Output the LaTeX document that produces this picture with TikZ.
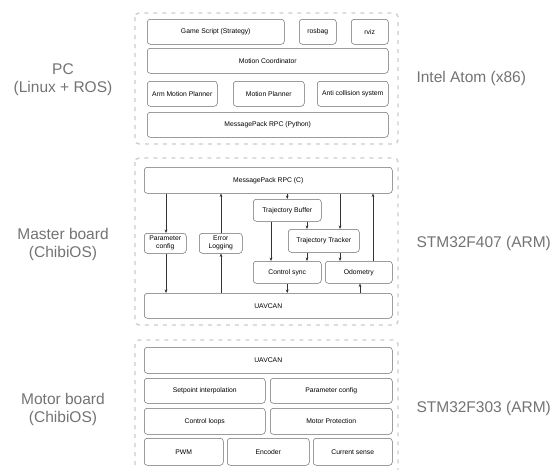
\documentclass[tikz,border=0pt]{standalone}
\usepackage{fontspec}
\setmainfont{Liberation Sans}
\usetikzlibrary{arrows.meta}

\definecolor{boxline}{RGB}{105,105,105}
\definecolor{dashgray}{RGB}{205,205,205}
\definecolor{labelgray}{RGB}{115,115,115}

\tikzset{
  layer/.style={draw=boxline, line width=0.5pt, rounded corners=3pt, anchor=north west,
    inner sep=0pt, align=center, font=\fontsize{6.8}{8}\selectfont},
  group/.style={draw=dashgray, line width=1.4pt, dash pattern=on 4pt off 5pt, rounded corners=4pt},
  side/.style={text=labelgray, align=center, font=\fontsize{15.5}{18}\selectfont},
  arr/.style={-{Stealth[length=3.5pt,width=2.8pt]}, draw=black!80, line width=0.5pt}
}

\begin{document}
\begin{tikzpicture}[x=1pt, y=-1pt]
\useasboundingbox (0,0) rectangle (556,469);
\clip (0,0) rectangle (556,469);

% columns for the connectors
\coordinate (cA) at (166,0);
\coordinate (cB) at (221,0);
\coordinate (cD) at (271,0);
\coordinate (cE) at (307,0);
\coordinate (cF) at (340,0);
\coordinate (cG) at (360,0);
\coordinate (cH) at (373,0);

% groups
\draw [group] (135,13) rectangle (398,144);
\draw [group] (135,158) rectangle (398,325);
\draw [group] (135,340) rectangle (398,490);

% PC
\node [layer, minimum width=137, minimum height=25] (game) at (147,19) {Game Script (Strategy)};
\node [layer, minimum width=37, minimum height=25] (rosbag) at (299,19) {rosbag};
\node [layer, minimum width=37, minimum height=25] (rviz) at (351,19) {rviz};
\node [layer, minimum width=241, minimum height=25] (coord) at (147,48) {Motion Coordinator};
\node [layer, minimum width=70, minimum height=25] (arm) at (147,81) {Arm Motion Planner};
\node [layer, minimum width=71, minimum height=25] (planner) at (233,81) {Motion Planner};
\node [layer, minimum width=71, minimum height=25] (anticol) at (317,81) {Anti collision system};
\node [layer, minimum width=241, minimum height=25] (pyrpc) at (147,112) {MessagePack RPC (Python)};

% master board
\node [layer, minimum width=248, minimum height=26] (crpc) at (144,167) {MessagePack RPC (C)};
\node [layer, minimum width=42, minimum height=20] (param) at (144,233) {Parameter\\config};
\node [layer, minimum width=43, minimum height=20] (errlog) at (199,233) {Error\\Logging};
\node [layer, minimum width=68, minimum height=22] (buffer) at (253,199) {Trajectory Buffer};
\node [layer, minimum width=71, minimum height=23] (tracker) at (288,229) {Trajectory Tracker};
\node [layer, minimum width=68, minimum height=22] (sync) at (253,261) {Control sync};
\node [layer, minimum width=67, minimum height=22] (odom) at (325,261) {Odometry};
\node [layer, minimum width=248, minimum height=25] (uavcan) at (144,293) {UAVCAN};

\draw [arr] (crpc.south -| cA) -- (param.north -| cA);
\draw [arr] (param.south -| cA) -- (uavcan.north -| cA);
\draw [arr] (uavcan.north -| cB) -- (errlog.south -| cB);
\draw [arr] (errlog.north -| cB) -- (crpc.south -| cB);
\draw [arr] (crpc.south -| buffer) -- (buffer.north);
\draw [arr] (buffer.south -| cD) -- (sync.north -| cD);
\draw [arr] (buffer.south -| cE) -- (tracker.north -| cE);
\draw [arr] (crpc.south -| cF) -- (tracker.north -| cF);
\draw [arr] (tracker.south -| cE) -- (sync.north -| cE);
\draw [arr] (tracker.south -| cF) -- (odom.north -| cF);
\draw [arr] (sync.south) -- (uavcan.north -| sync);
\draw [arr] (uavcan.north -| cG) -- (odom.south -| cG);
\draw [arr] (odom.north -| cH) -- (crpc.south -| cH);

% motor board
\node [layer, minimum width=248, minimum height=26] (muav) at (144,347) {UAVCAN};
\node [layer, minimum width=121, minimum height=25] (setpoint) at (144,378) {Setpoint interpolation};
\node [layer, minimum width=122, minimum height=25] (mparam) at (270,378) {Parameter config};
\node [layer, minimum width=121, minimum height=26] (loops) at (144,408) {Control loops};
\node [layer, minimum width=122, minimum height=26] (protect) at (270,408) {Motor Protection};
\node [layer, minimum width=79, minimum height=27] (pwm) at (144,438) {PWM};
\node [layer, minimum width=82, minimum height=27] (encoder) at (227,438) {Encoder};
\node [layer, minimum width=79, minimum height=27] (current) at (313,438) {Current sense};

% side labels
\node [side] (pc) at (63,80) {PC\\(Linux + ROS)};
\node [side] (master) at (63,244) {Master board\\(ChibiOS)};
\node [side] (motor) at (63,409) {Motor board\\(ChibiOS)};
\node [side, anchor=west] (atom) at (413,78) {Intel Atom (x86)};
\node [side, anchor=west] (f407) at (413,243) {STM32F407 (ARM)};
\node [side, anchor=west] (f303) at (413,408) {STM32F303 (ARM)};

\end{tikzpicture}
\end{document}
